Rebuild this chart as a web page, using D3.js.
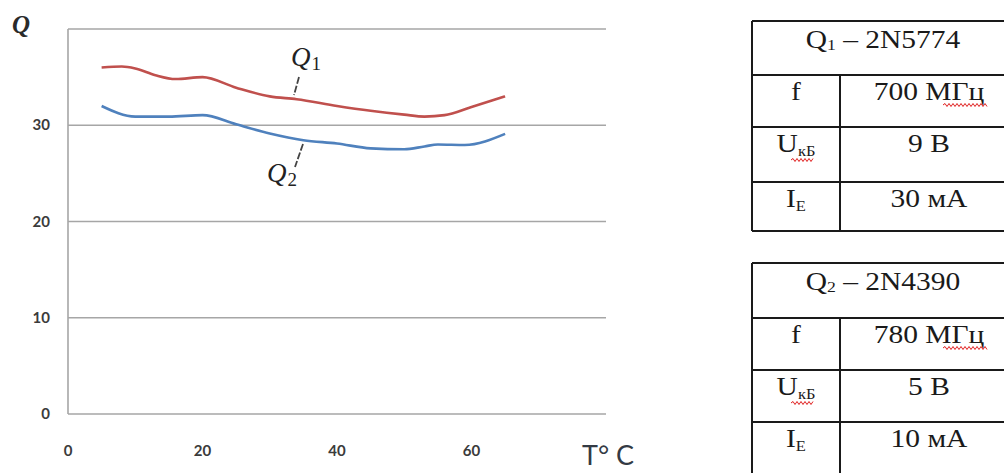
<!DOCTYPE html>
<html>
<head>
<meta charset="utf-8">
<script src="https://cdn.jsdelivr.net/npm/d3@7"></script>
<style>
  html, body { margin: 0; padding: 0; background: #fff; }
  svg { display: block; }
</style>
</head>
<body>
<svg id="chart" width="1004" height="473"></svg>
<script>
// ---- data ----
const q1T = [5, 8, 10, 13, 16, 20, 25, 30, 34, 40, 45, 50, 53, 56, 60, 65];
const q1V = [36.0, 36.1, 35.9, 35.2, 34.8, 35.0, 33.9, 33.0, 32.7, 32.0, 31.5, 31.1, 30.9, 31.05, 31.9, 33.0];
const q2T = [5, 10, 15, 20, 25, 30, 35, 40, 45, 50, 53, 55, 59, 65];
const q2V = [32.0, 30.9, 30.9, 31.05, 30.1, 29.15, 28.45, 28.1, 27.6, 27.5, 27.8, 28.0, 27.95, 29.1];
const xTicks = [0, 20, 40, 60];
const yTicks = [0, 10, 20, 30];
const yGrid = [0, 10, 20, 30, 40];
const table1 = { title: ["Q", "1", " – 2N5774"], rows: [["f", "700 МГц"], ["U|кБ", "9 В"], ["I|Е", "30 мА"]] };
const table2 = { title: ["Q", "2", " – 2N4390"], rows: [["f", "780 МГц"], ["U|кБ", "5 В"], ["I|Е", "10 мА"]] };

const svg = d3.select("#chart");
const x = d3.scaleLinear().domain([0, 80]).range([68, 606]);
const y = d3.scaleLinear().domain([0, 40]).range([414, 29]);

// gridlines
svg.append("g").selectAll("line").data(yGrid).join("line")
  .attr("x1", x(0)).attr("x2", x(80))
  .attr("y1", d => y(d)).attr("y2", d => y(d))
  .attr("stroke", "#a6a6a6").attr("stroke-width", 1.6);
svg.append("line").attr("x1", x(0)).attr("x2", x(0)).attr("y1", y(40)).attr("y2", y(0))
  .attr("stroke", "#a6a6a6").attr("stroke-width", 1.6);

// tick labels
svg.append("g").selectAll("text").data(yTicks).join("text")
  .attr("x", 50).attr("y", d => y(d) + 5)
  .attr("text-anchor", "end")
  .attr("font-family", "Lato, 'Open Sans', sans-serif").attr("font-size", 15).attr("font-weight", "bold")
  .attr("fill", "#3b3b3b")
  .text(d => d);
svg.append("g").selectAll("text").data(xTicks).join("text")
  .attr("x", d => x(d)).attr("y", 456)
  .attr("text-anchor", "middle")
  .attr("font-family", "Lato, 'Open Sans', sans-serif").attr("font-size", 15).attr("font-weight", "bold")
  .attr("fill", "#3b3b3b")
  .text(d => d);

// axis titles
svg.append("text").attr("x", 12).attr("y", 33)
  .attr("font-family", "'Liberation Serif', serif").attr("font-style", "italic").attr("font-weight", "bold")
  .attr("font-size", 25).attr("fill", "#2a2a2a").text("Q");
svg.append("text").attr("x", 582).attr("y", 465)
  .attr("font-family", "Lato, 'Open Sans', sans-serif").attr("font-size", 27)
  .attr("fill", "#333a44").text("T° C");

// lines
const line = d3.line().x(d => x(d[0])).y(d => y(d[1])).curve(d3.curveMonotoneX);
svg.append("path").datum(q1T.map((t, i) => [t, q1V[i]])).attr("d", line)
  .attr("fill", "none").attr("stroke", "#c0504d").attr("stroke-width", 2.6);
svg.append("path").datum(q2T.map((t, i) => [t, q2V[i]])).attr("d", line)
  .attr("fill", "none").attr("stroke", "#4f81bd").attr("stroke-width", 2.6);

// series labels
function seriesLabel(px, py, sub) {
  const t = svg.append("text").attr("x", px).attr("y", py)
    .attr("font-family", "'Liberation Serif', serif")
    .attr("font-size", 27).attr("fill", "#222");
  t.append("tspan").attr("font-style", "italic").text("Q");
  t.append("tspan").attr("font-size", 19).attr("dy", 4).attr("dx", 1).text(sub);
}
seriesLabel(291, 66, "1");
seriesLabel(267, 182, "2");
svg.append("line").attr("x1", 299).attr("y1", 77).attr("x2", 294).attr("y2", 95)
  .attr("stroke", "#444").attr("stroke-width", 1.8).attr("stroke-dasharray", "7,2");
svg.append("line").attr("x1", 303).attr("y1", 144).attr("x2", 295).attr("y2", 167)
  .attr("stroke", "#444").attr("stroke-width", 1.8).attr("stroke-dasharray", "7,2");

// tables
function wavy(x0, x1, yy) {
  let p = "M" + x0 + "," + yy;
  let up = true;
  for (let xx = x0 + 2; xx <= x1; xx += 2) { p += " L" + xx + "," + (yy + (up ? -1.5 : 1.5)); up = !up; }
  svg.append("path").attr("d", p).attr("fill", "none").attr("stroke", "#e02020").attr("stroke-width", 1);
}
function drawTable(tb, top, rowH, sx) {
  const left = 752, right = 1018, mid = 840;
  const ys = [top];
  rowH.forEach(h => ys.push(ys[ys.length - 1] + h));
  const g = svg.append("g");
  const stroke = "#1a1a1a";
  ys.forEach((yy) => g.append("line").attr("x1", left).attr("x2", right).attr("y1", yy).attr("y2", yy).attr("stroke", stroke).attr("stroke-width", 2));
  g.append("line").attr("x1", left).attr("x2", left).attr("y1", ys[0]).attr("y2", ys[ys.length - 1]).attr("stroke", stroke).attr("stroke-width", 2);
  g.append("line").attr("x1", mid).attr("x2", mid).attr("y1", ys[1]).attr("y2", ys[ys.length - 1]).attr("stroke", stroke).attr("stroke-width", 2);
  const font = "'Liberation Serif', 'Times New Roman', serif";
  const fs = 25;
  const cx = (left + right) / 2;
  const tt = g.append("text").attr("transform", `translate(${cx - 2},${ys[0] + 27}) scale(${sx},1)`)
    .attr("text-anchor", "middle").attr("font-family", font).attr("font-size", fs).attr("fill", "#1a1a1a");
  tt.append("tspan").text(tb.title[0]);
  tt.append("tspan").attr("font-size", 15).attr("dy", 2).text(tb.title[1]);
  tt.append("tspan").attr("dy", -2).text(tb.title[2]);
  tb.rows.forEach((r, i) => {
    const by = ys[i + 1] + 25;
    const parts = r[0].split("|");
    const lt = g.append("text").attr("transform", `translate(${(left + mid) / 2},${by}) scale(${sx},1)`)
      .attr("text-anchor", "middle").attr("font-family", font).attr("font-size", fs).attr("fill", "#1a1a1a");
    lt.append("tspan").text(parts[0]);
    if (parts[1]) {
      lt.append("tspan").attr("font-size", 14).attr("dy", 4).text(parts[1]);
    }
    g.append("text").attr("transform", `translate(${(mid + right) / 2},${by}) scale(${sx},1)`)
      .attr("text-anchor", "middle").attr("font-family", font).attr("font-size", fs).attr("fill", "#1a1a1a")
      .text(r[1]);
    if (r[1].indexOf("МГц") >= 0) wavy(943, 987, by + 5);
    if (parts[1] === "кБ") wavy(791, 814, by + 8);
  });
}
drawTable(table1, 21, [54, 52, 55, 49], 1.18);
drawTable(table2, 263, [55, 52, 52, 60], 1.18);
</script>
</body>
</html>
